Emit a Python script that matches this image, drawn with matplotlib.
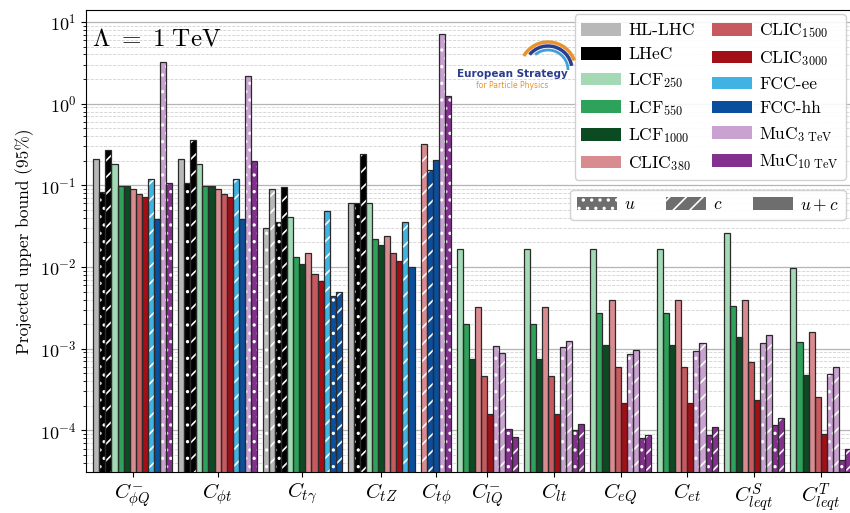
import numpy as np
import matplotlib
matplotlib.use("Agg")
import matplotlib.pyplot as plt
from matplotlib.patches import Patch, Arc

plt.rcParams['font.family'] = ['cmr10', 'DejaVu Serif']
plt.rcParams['mathtext.fontset'] = 'cm'
plt.rcParams['axes.formatter.use_mathtext'] = True
plt.rcParams['hatch.linewidth'] = 1.2

# ---------------- data ----------------
colliders = ['HL-LHC', 'LHeC', 'LCF250', 'LCF550', 'LCF1000', 'CLIC380',
             'CLIC1500', 'CLIC3000', 'FCC-ee', 'FCC-hh', 'MuC3', 'MuC10']
collider_labels = ['HL-LHC', 'LHeC', r'LCF$_{250}$', r'LCF$_{550}$', r'LCF$_{1000}$',
                   r'CLIC$_{380}$', r'CLIC$_{1500}$', r'CLIC$_{3000}$', 'FCC-ee', 'FCC-hh',
                   r'MuC$_{3\ \mathrm{TeV}}$', r'MuC$_{10\ \mathrm{TeV}}$']
collider_colors = ['#b8b8b8', '#000000', '#a3d9b5', '#2ea25a', '#0c4a22', '#d98c90',
                   '#c65a5e', '#a30f17', '#41b3e3', '#0a4f9e', '#c9a2d2', '#83308f']

coef_labels = [r'$C_{\phi Q}^{-}$', r'$C_{\phi t}$', r'$C_{t\gamma}$', r'$C_{tZ}$',
               r'$C_{t\phi}$', r'$C_{lQ}^{-}$', r'$C_{lt}$', r'$C_{eQ}$', r'$C_{et}$',
               r'$C_{leqt}^{S}$', r'$C_{leqt}^{T}$']

# bar layouts (collider, scenario) per coefficient type
bars_phi_coll = ['HL-LHC', 'LHeC', 'LHeC', 'LCF250', 'LCF550', 'LCF1000', 'CLIC380',
                 'CLIC1500', 'CLIC3000', 'FCC-ee', 'FCC-hh', 'MuC3', 'MuC10']
bars_phi_scen = ['uc', 'u', 'c', 'uc', 'uc', 'uc', 'uc', 'uc', 'uc', 'c', 'uc', 'u', 'u']

bars_tgam_coll = ['HL-LHC', 'HL-LHC', 'LHeC', 'LHeC', 'LCF250', 'LCF550', 'LCF1000',
                  'CLIC380', 'CLIC1500', 'CLIC3000', 'FCC-ee', 'FCC-hh', 'FCC-hh']
bars_tgam_scen = ['u', 'c', 'u', 'c', 'uc', 'uc', 'uc', 'uc', 'uc', 'uc', 'c', 'u', 'c']

bars_tZ_coll = ['HL-LHC', 'LHeC', 'LHeC', 'LCF250', 'LCF550', 'LCF1000', 'CLIC380',
                'CLIC1500', 'CLIC3000', 'FCC-ee', 'FCC-hh']
bars_tZ_scen = ['uc', 'u', 'c', 'uc', 'uc', 'uc', 'uc', 'uc', 'uc', 'c', 'uc']

bars_tphi_coll = ['CLIC380', 'FCC-hh', 'FCC-hh', 'MuC3', 'MuC10']
bars_tphi_scen = ['c', 'c', 'uc', 'u', 'u']

bars_4f_coll = ['LCF250', 'LCF550', 'LCF1000', 'CLIC380', 'CLIC1500', 'CLIC3000',
                'MuC3', 'MuC3', 'MuC10', 'MuC10']
bars_4f_scen = ['uc', 'uc', 'uc', 'uc', 'uc', 'uc', 'u', 'c', 'u', 'c']

vals_phiQ = [0.21, 0.083, 0.27, 0.183, 0.098, 0.098, 0.091, 0.078, 0.072, 0.118, 0.039, 3.2, 0.106]
vals_phit = [0.21, 0.107, 0.36, 0.183, 0.098, 0.098, 0.091, 0.078, 0.072, 0.118, 0.039, 2.2, 0.197]
vals_tgam = [0.030, 0.089, 0.036, 0.095, 0.041, 0.0134, 0.011, 0.015, 0.0083, 0.0068, 0.048, 0.0044, 0.0050]
vals_tZ = [0.061, 0.060, 0.24, 0.061, 0.022, 0.0188, 0.024, 0.0147, 0.0118, 0.036, 0.0099]
vals_tphi = [0.32, 0.156, 0.206, 7.2, 1.25]
vals_lQ = [0.0166, 0.0020, 0.00075, 0.0032, 0.00046, 0.000161, 0.00107, 0.00089, 0.000105, 0.000083]
vals_lt = [0.0166, 0.0020, 0.00075, 0.0032, 0.00046, 0.000161, 0.00104, 0.00125, 0.000100, 0.000121]
vals_eQ = [0.0166, 0.0027, 0.0011, 0.0040, 0.00060, 0.000215, 0.00087, 0.00096, 0.000081, 0.000087]
vals_et = [0.0166, 0.0027, 0.0011, 0.0040, 0.00060, 0.000215, 0.00094, 0.00118, 0.000089, 0.000109]
vals_S = [0.0264, 0.0033, 0.0014, 0.0040, 0.00068, 0.000237, 0.00118, 0.00146, 0.000115, 0.000141]
vals_T = [0.0097, 0.0012, 0.00048, 0.0016, 0.00026, 0.000091, 0.00049, 0.00059, 0.0000437, 0.000059]

groups = [
    (bars_phi_coll, bars_phi_scen, vals_phiQ),
    (bars_phi_coll, bars_phi_scen, vals_phit),
    (bars_tgam_coll, bars_tgam_scen, vals_tgam),
    (bars_tZ_coll, bars_tZ_scen, vals_tZ),
    (bars_tphi_coll, bars_tphi_scen, vals_tphi),
    (bars_4f_coll, bars_4f_scen, vals_lQ),
    (bars_4f_coll, bars_4f_scen, vals_lt),
    (bars_4f_coll, bars_4f_scen, vals_eQ),
    (bars_4f_coll, bars_4f_scen, vals_et),
    (bars_4f_coll, bars_4f_scen, vals_S),
    (bars_4f_coll, bars_4f_scen, vals_T),
]

hatch_map = {'u': '..', 'c': '//', 'uc': ''}
color_of = dict(zip(colliders, collider_colors))

# ---------------- figure ----------------
W, H = 850, 513
fig = plt.figure(figsize=(W / 100, H / 100), dpi=100)
ax = fig.add_axes([86 / W, 1 - 472 / H, (851 - 86) / W, (472 - 10) / H])

pos = 0
ticks = []
for coll, scen, vals in groups:
    xs = np.arange(pos, pos + len(vals))
    for x, c, s, v in zip(xs, coll, scen, vals):
        ax.bar(x, v, width=1.0, bottom=1e-7, color=color_of[c], hatch=hatch_map[s],
               edgecolor='white', linewidth=0, zorder=2)
        ax.bar(x, v, width=1.0, bottom=1e-7, fill=False, edgecolor='#2a2a2a',
               linewidth=0.9, zorder=3)
    ticks.append(xs.mean())
    pos += len(vals) + 1

ax.set_yscale('log')
ax.set_ylim(3.1e-5, 14)
ax.set_xlim(-1.7, pos - 1 - 0.5)
ax.set_xticks(ticks)
ax.set_xticklabels(coef_labels, fontsize=15)
ax.tick_params(axis='x', pad=3)
ax.tick_params(axis='y', labelsize=13)
ax.set_ylabel('Projected upper bound (95%)', fontsize=12.5)

ax.set_axisbelow(True)
ax.yaxis.grid(True, which='major', color='#b5b5b5', linewidth=0.9, linestyle='-')
ax.yaxis.grid(True, which='minor', color='#d2d2d2', linewidth=0.6, linestyle='--')

ax.text(0.008, 0.96, r'$\Lambda\ =\ 1\ \mathrm{TeV}$', transform=ax.transAxes,
        fontsize=18, ha='left', va='top', zorder=5)

# legends
h1 = [Patch(facecolor=c, edgecolor='none') for c in collider_colors]
leg1 = ax.legend(h1, collider_labels, ncol=2, loc='upper right',
                 bbox_to_anchor=(0.9975, 0.998), borderaxespad=0.2, fontsize=12.5,
                 handlelength=2.3, handleheight=0.75, columnspacing=1.0,
                 labelspacing=0.5, handletextpad=0.4, framealpha=0.9)
ax.add_artist(leg1)
h2 = [Patch(facecolor='#6e6e6e', hatch='..', edgecolor='white', linewidth=0),
      Patch(facecolor='#6e6e6e', hatch='//', edgecolor='white', linewidth=0),
      Patch(facecolor='#6e6e6e', edgecolor='none')]
ax.legend(h2, [r'$u$', r'$c$', r'$u + c$'], ncol=3, loc='upper right',
          bbox_to_anchor=(0.9975, 0.618), borderaxespad=0.2, fontsize=12.5,
          handlelength=2.3, handleheight=0.75, columnspacing=1.75,
          handletextpad=0.4, framealpha=0.9)

# European Strategy logo (approximation)
fig.text(512 / W, 1 - 74 / H, 'European Strategy', fontsize=7.5, color='#2b3d8f',
         family='DejaVu Sans', ha='center', va='center', weight='bold')
fig.text(512 / W, 1 - 86 / H, 'for Particle Physics', fontsize=5.5, color='#e8932e',
         family='DejaVu Sans', ha='center', va='center')
lax = fig.add_axes([500 / W, 1 - 80 / H, 80 / W, 50 / H])
lax.set_xlim(0, 80)
lax.set_ylim(0, 50)
lax.axis('off')
lax.add_patch(Arc((48, 10), 56, 56, theta1=20, theta2=150, color='#e8932e', lw=2.5))
lax.add_patch(Arc((48, 10), 48, 48, theta1=10, theta2=140, color='#2b3d8f', lw=2.5))
lax.add_patch(Arc((48, 10), 40, 40, theta1=0, theta2=130, color='#41a0d8', lw=2.0))

fig.savefig('out.png', dpi=100)
